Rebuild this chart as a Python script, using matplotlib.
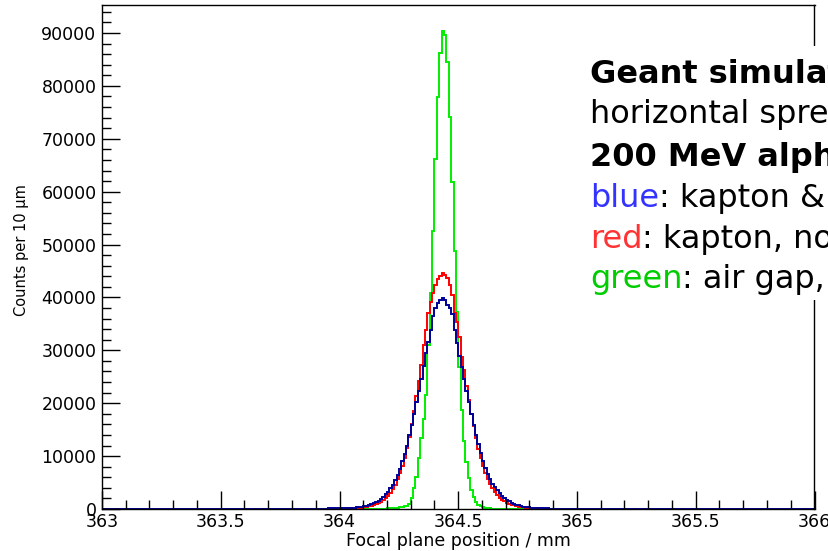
import numpy as np
import matplotlib
matplotlib.use("Agg")
import matplotlib.pyplot as plt
from matplotlib.patches import Rectangle
from matplotlib.ticker import MultipleLocator, FuncFormatter

plt.rcParams['font.family'] = ['DejaVu Sans']

# ---------------- data (counts per 10 um bin) ----------------
x_min, x_max, bin_width = 363.0, 366.0, 0.01

blue_first_bin = 363.70
blue_counts = [
    10, 0, 10, 20, 10, 20, 30, 20, 30, 30,
    40, 30, 40, 50, 40, 50, 60, 50, 60, 70,
    70, 80, 80, 90, 90, 100, 110, 110, 120, 130,
    100, 110, 130, 150, 180, 210, 250, 300, 360, 430,
    520, 620, 750, 900, 1100, 1350, 1600, 1900, 2300, 2800,
    3300, 3900, 4600, 5500, 6500, 7600, 9000, 10400, 12000, 13900,
    15800, 18000, 20200, 22300, 24500, 27000, 29500, 31630, 33840, 36400,
    37950, 38900, 39500, 39950, 39500, 38570, 37950, 36800, 33840, 31320,
    29000, 26800, 24600, 22400, 20200, 18000, 15900, 14000, 12200, 10600,
    9100, 7800, 6700, 5700, 4800, 4100, 3500, 3000, 2500, 2100,
    1750, 1450, 1200, 1000, 830, 690, 570, 470, 390, 330,
    280, 240, 200, 170, 150, 130, 110, 100, 90, 80,
    70, 70, 60, 60, 50, 50, 40, 40, 40, 30,
    30, 30, 20, 20, 20, 20, 10, 10, 10, 10,
    10, 10, 0, 10, 0, 10, 0, 0, 10, 0,
]

red_first_bin = 363.70
red_counts = [
    0, 10, 0, 10, 10, 0, 10, 20, 10, 20,
    20, 20, 30, 20, 30, 30, 40, 40, 40, 50,
    50, 50, 60, 60, 70, 70, 80, 80, 90, 90,
    70, 80, 90, 100, 120, 140, 160, 190, 220, 260,
    360, 440, 530, 640, 780, 950, 1150, 1400, 1700, 2100,
    2500, 3100, 3800, 4600, 5600, 6800, 8100, 9700, 11500, 13600,
    16000, 18600, 21400, 24200, 27200, 31000, 33840, 37000, 39200, 40780,
    42350, 43400, 44050, 44700, 44240, 43600, 42350, 40460, 37000, 35400,
    32570, 28800, 26300, 23300, 20600, 18000, 15600, 13400, 11400, 9600,
    8100, 6800, 5700, 4700, 3900, 3200, 2600, 2150, 1750, 1450,
    1200, 1000, 820, 680, 560, 460, 380, 310, 260, 220,
    180, 150, 130, 110, 100, 90, 80, 70, 60, 60,
    50, 50, 40, 40, 40, 30, 30, 30, 20, 20,
    20, 20, 10, 10, 10, 10, 10, 0, 10, 0,
    10, 0, 10, 0, 10, 0, 10, 0, 0, 0,
]

green_first_bin = 364.10
green_counts = [
    0, 10, 10, 20, 20, 30, 40, 50, 60, 80,
    100, 120, 150, 200, 250, 300, 400, 500, 650, 900,
    2000, 3900, 6100, 9600, 13500, 17000, 21500, 31000, 40780, 52600,
    66120, 77960, 86150, 90400, 89700, 84600, 74100, 61900, 48800, 37300,
    26900, 18700, 12900, 8950, 5800, 3590, 2330, 1380, 800, 550,
    380, 260, 180, 120, 80, 60, 40, 30, 20, 10,
    10, 10, 0, 10, 0, 0, 0, 0, 0, 0,
]

y_max = 95300
x_label = "Focal plane position / mm"
y_label = "Counts per 10 \u00b5m"

text_lines = [
    [("Geant simulation", "black", "bold")],
    [("horizontal spread", "black", "normal")],
    [("200 MeV alphas", "black", "bold")],
    [("blue", "#3333ff", "normal"), (": kapton & air", "black", "normal")],
    [("red", "#ff3333", "normal"), (": kapton, no air", "black", "normal")],
    [("green", "#00cc00", "normal"), (": air gap, no kapton", "black", "normal")],
]

# ---------------- figure ----------------
W, H = 829, 551
fig = plt.figure(figsize=(W / 100, H / 100), dpi=100)
ax_l, ax_r, ax_t, ax_b = 102, 814.5, 5, 509
ax = fig.add_axes([ax_l / W, 1 - ax_b / H, (ax_r - ax_l) / W, (ax_b - ax_t) / H])

n_bins = int(round((x_max - x_min) / bin_width))
edges = x_min + bin_width * np.arange(n_bins + 1)


def full_hist(first_bin, counts):
    h = np.zeros(n_bins)
    i0 = int(round((first_bin - x_min) / bin_width))
    h[i0:i0 + len(counts)] = counts
    return h


ax.stairs(full_hist(green_first_bin, green_counts), edges, color="#00ee00", lw=1.4)
ax.stairs(full_hist(red_first_bin, red_counts), edges, color="#ff0000", lw=1.4)
ax.stairs(full_hist(blue_first_bin, blue_counts), edges, color="#000099", lw=1.4)

ax.set_xlim(x_min, x_max)
ax.set_ylim(0, y_max)

ax.xaxis.set_major_locator(MultipleLocator(0.5))
ax.xaxis.set_minor_locator(MultipleLocator(0.1))
ax.yaxis.set_major_locator(MultipleLocator(10000))
ax.yaxis.set_minor_locator(MultipleLocator(2000))
ax.xaxis.set_major_formatter(FuncFormatter(lambda v, p: f"{v:g}"))
ax.yaxis.set_major_formatter(FuncFormatter(lambda v, p: f"{v:.0f}"))

ax.tick_params(which="both", direction="in", top=False, right=False,
               labelsize=12.5, width=1, color="black")
ax.tick_params(axis="y", which="major", length=13, pad=4)
ax.tick_params(axis="y", which="minor", length=6.5)
ax.tick_params(axis="x", which="major", length=13, pad=3)
ax.tick_params(axis="x", which="minor", length=6.5)
for s in ax.spines.values():
    s.set_linewidth(1.0)

ax.set_xlabel(x_label, fontsize=12.5)
ax.xaxis.set_label_coords(0.5, (ax_b - 541) / (ax_b - ax_t))
ax.xaxis.label.set_va("center")
ax.set_ylabel(y_label, fontsize=10.5)
ax.yaxis.set_label_coords((22 - ax_l) / (ax_r - ax_l), (ax_b - 250) / (ax_b - ax_t))
ax.yaxis.label.set_va("center")

# white pave behind the annotation text
fig.patches.append(Rectangle((583 / W, 1 - 300 / H), (W - 583) / W, (300 - 46) / H,
                             transform=fig.transFigure, facecolor="white",
                             edgecolor="none", zorder=2))

baselines = [83, 123, 166, 207, 248, 288]
x0 = 590
fig.canvas.draw()
renderer = fig.canvas.get_renderer()
for line, yb in zip(text_lines, baselines):
    xpos = x0
    for (s, c, w) in line:
        t = fig.text(xpos / W, 1 - yb / H, s, color=c, fontsize=23, fontweight=w,
                     va="baseline", ha="left", zorder=3)
        xpos = t.get_window_extent(renderer).x1

fig.savefig("out.png", dpi=100)
